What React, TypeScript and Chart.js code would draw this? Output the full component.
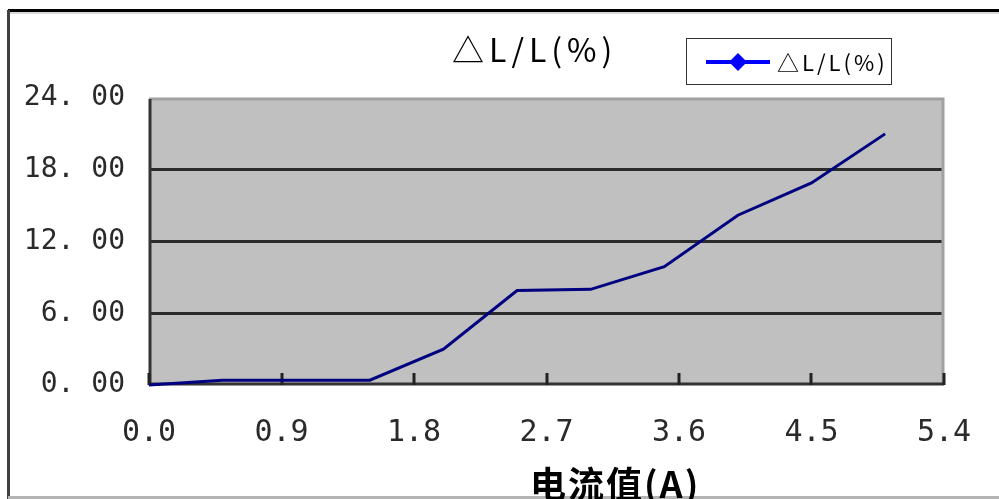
import React, { useEffect, useRef } from "react";
import { Chart, registerables } from "chart.js";

Chart.register(...registerables);

// ---- data ----
const CURRENT_A = [0, 0.5, 1.0, 1.5, 2.0, 2.5, 3.0, 3.5, 4.0, 4.5, 5.0];
const DELTA_L_PCT = [0, 0.4, 0.4, 0.4, 3.0, 7.9, 8.0, 9.9, 14.2, 16.9, 21.0];
const X_TICKS = [0, 0.9, 1.8, 2.7, 3.6, 4.5, 5.4];
const Y_TICKS = [0, 6, 12, 18, 24];
const TITLE = "△L/L(%)";
const SERIES_LABEL = "△L/L(%)";
const X_TITLE = "电流值(A)";

const W = 999;
const H = 499;

const decor = {
  id: "decor",
  beforeDraw(chart: any) {
    const { ctx, chartArea: a } = chart;
    ctx.save();
    ctx.fillStyle = "#ffffff";
    ctx.fillRect(0, 0, chart.width, chart.height);
    ctx.fillStyle = "#c0c0c0";
    ctx.fillRect(a.left, a.top, a.right - a.left, a.bottom - a.top);
    ctx.restore();
  },
  beforeDatasetsDraw(chart: any) {
    const { ctx, chartArea: a } = chart;
    const xs = chart.scales.x;
    ctx.save();
    // light top / right border
    ctx.strokeStyle = "#a0a0a0";
    ctx.lineWidth = 3;
    ctx.beginPath();
    ctx.moveTo(a.left, a.top + 1);
    ctx.lineTo(a.right - 1, a.top + 1);
    ctx.lineTo(a.right - 1, a.bottom);
    ctx.stroke();
    // dark left / bottom border
    ctx.strokeStyle = "#333333";
    ctx.beginPath();
    ctx.moveTo(a.left + 1, a.top + 1);
    ctx.lineTo(a.left + 1, a.bottom - 1);
    ctx.lineTo(a.right, a.bottom - 1);
    ctx.stroke();
    // inner tick marks on x axis
    ctx.strokeStyle = "#222222";
    ctx.lineWidth = 3;
    for (const t of xs.ticks) {
      const px = Math.round(xs.getPixelForValue(t.value));
      ctx.beginPath();
      ctx.moveTo(px, a.bottom);
      ctx.lineTo(px, a.bottom - 12);
      ctx.stroke();
    }
    ctx.restore();
  },
  afterDraw(chart: any) {
    const { ctx } = chart;
    ctx.save();
    // outer frame
    ctx.fillStyle = "#000000";
    ctx.fillRect(8, 9, W - 8, 3);
    ctx.fillStyle = "#d8d8d8";
    ctx.fillRect(8, 12, W - 8, 2);
    ctx.fillStyle = "#404040";
    ctx.fillRect(7, 10, 3, H - 10);
    ctx.fillStyle = "#b4b4b4";
    ctx.fillRect(8, 496, W - 8, 3);

    // title
    ctx.fillStyle = "#000000";
    ctx.font = '32px "Noto Sans CJK SC", "DejaVu Sans", sans-serif';
    (ctx as any).letterSpacing = "5px";
    ctx.textAlign = "left";
    ctx.textBaseline = "alphabetic";
    ctx.fillText(TITLE, 452, 62);

    // legend box
    const lx = 686, ly = 38, lw = 205, lh = 46;
    ctx.fillStyle = "#ffffff";
    ctx.fillRect(lx, ly, lw, lh);
    ctx.strokeStyle = "#333333";
    ctx.lineWidth = 1;
    ctx.strokeRect(lx + 0.5, ly + 0.5, lw, lh);
    const ds = chart.data.datasets[0];
    ctx.strokeStyle = "#0000ff";
    ctx.lineWidth = 4;
    ctx.beginPath();
    ctx.moveTo(706, 62);
    ctx.lineTo(770, 62);
    ctx.stroke();
    ctx.fillStyle = "#0000ff";
    ctx.beginPath();
    ctx.moveTo(738, 53);
    ctx.lineTo(747, 62);
    ctx.lineTo(738, 71);
    ctx.lineTo(729, 62);
    ctx.closePath();
    ctx.fill();
    ctx.fillStyle = "#000000";
    ctx.font = '22px "Noto Sans CJK SC", "DejaVu Sans", sans-serif';
    (ctx as any).letterSpacing = "3px";
    ctx.fillText(ds.label, 777, 71);

    // x axis title
    ctx.font = 'bold 36px "Noto Sans CJK SC", "DejaVu Sans", sans-serif';
    (ctx as any).letterSpacing = "2px";
    ctx.fillStyle = "#000000";
    ctx.textBaseline = "top";
    ctx.fillText(X_TITLE, 530, 466);
    ctx.restore();
  },
};

export default function App() {
  const ref = useRef<HTMLCanvasElement | null>(null);

  useEffect(() => {
    document.body.style.margin = "0";
    const canvas = ref.current;
    if (!canvas) return;
    const chart = new Chart(canvas, {
      type: "line",
      data: {
        datasets: [
          {
            label: SERIES_LABEL,
            data: CURRENT_A.map((x, i) => ({ x, y: DELTA_L_PCT[i] })),
            borderColor: "#000080",
            backgroundColor: "#000080",
            borderWidth: 3,
            pointRadius: 0,
            tension: 0,
            clip: false as any,
          },
        ],
      },
      options: {
        animation: false,
        responsive: false,
        devicePixelRatio: 1,
        layout: { padding: { left: 0, top: 98, right: 55, bottom: 0 } },
        plugins: {
          legend: { display: false },
          title: { display: false },
          tooltip: { enabled: false },
        },
        scales: {
          x: {
            type: "linear",
            min: X_TICKS[0],
            max: X_TICKS[X_TICKS.length - 1],
            afterBuildTicks: (s: any) => {
              s.ticks = X_TICKS.map((v) => ({ value: v }));
            },
            afterFit: (s: any) => {
              s.height = H - 385;
            },
            grid: { display: false },
            border: { display: false },
            ticks: {
              padding: 22,
              color: "#2a2a2a",
              font: { family: '"DejaVu Sans Mono", monospace', size: 30 },
              callback: (v: any) => Number(v).toFixed(1),
              maxRotation: 0,
              autoSkip: false,
            },
          },
          y: {
            min: Y_TICKS[0],
            max: Y_TICKS[Y_TICKS.length - 1],
            afterBuildTicks: (s: any) => {
              s.ticks = Y_TICKS.map((v) => ({ value: v }));
            },
            afterFit: (s: any) => {
              s.width = 149;
            },
            grid: {
              drawTicks: false,
              lineWidth: 3,
              color: (c: any) =>
                c.tick && (c.tick.value === Y_TICKS[0] || c.tick.value === Y_TICKS[Y_TICKS.length - 1])
                  ? "rgba(0,0,0,0)"
                  : "#2b2b2b",
            },
            border: { display: false },
            ticks: {
              padding: 24,
              color: "#2a2a2a",
              font: { family: '"DejaVu Sans Mono", monospace', size: 28 },
              callback: (v: any) => Number(v).toFixed(2).replace(".", ". "),
              autoSkip: false,
            },
          },
        },
      },
      plugins: [decor],
    });
    return () => chart.destroy();
  }, []);

  return (
    <div style={{ position: "absolute", left: 0, top: 0, width: W, height: H }}>
      <canvas ref={ref} width={W} height={H} style={{ width: W, height: H, display: "block" }} />
    </div>
  );
}
